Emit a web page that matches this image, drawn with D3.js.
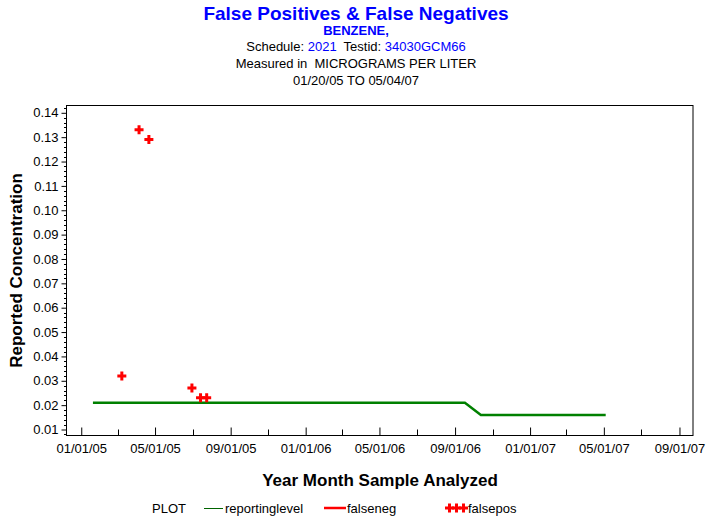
<!DOCTYPE html>
<html><head><meta charset="utf-8">
<script src="https://cdn.jsdelivr.net/npm/d3@7"></script>
<style>body{margin:0;background:#fff}svg{display:block;font-family:"Liberation Sans",Arial,sans-serif}</style>
</head><body><svg id="c" width="713" height="523"></svg>
<script>
const reportDates = ["2005-01-20","2006-09-17","2006-10-13","2007-05-04"];
const reportValues = [0.021,0.021,0.016,0.016];
const falseposDates = ["2005-03-08","2005-04-05","2005-04-21","2005-06-30","2005-07-14","2005-07-24"];
const falseposValues = [0.032,0.133,0.129,0.027,0.023,0.023];
const xTickLabels = ["01/01/05","05/01/05","09/01/05","01/01/06","05/01/06","09/01/06","01/01/07","05/01/07","09/01/07"];
const yTickValues = [0.01,0.02,0.03,0.04,0.05,0.06,0.07,0.08,0.09,0.10,0.11,0.12,0.13,0.14];
const legendLabels = ["reportinglevel","falseneg","falsepos"];

const parse = d3.timeParse("%Y-%m-%d");
const parseTick = d3.timeParse("%m/%d/%y");
const svg = d3.select("#c");
const L=66.5, R=693, T=105.5, B=435.5;

const x = d3.scaleTime().domain([parse("2004-12-08"), parse("2007-09-23")]).range([L,R]);
const y = d3.scaleLinear().domain([0.00754, 0.1430]).range([B,T]);

// titles
const cx = 356;
svg.append("text").attr("x",cx).attr("y",20).attr("text-anchor","middle").attr("fill","#0000ff")
  .attr("font-weight","bold").attr("font-size",19).text("False Positives & False Negatives");
svg.append("text").attr("x",cx).attr("y",35).attr("text-anchor","middle").attr("fill","#0000ff")
  .attr("font-weight","bold").attr("font-size",13).text("BENZENE,");
const t3 = svg.append("text").attr("x",cx).attr("y",51).attr("text-anchor","middle").attr("font-size",13);
t3.append("tspan").text("Schedule: ");
t3.append("tspan").attr("fill","#0000ff").text("2021");
t3.append("tspan").text("  Testid: ");
t3.append("tspan").attr("fill","#0000ff").text("34030GCM66");
t3.attr("xml:space","preserve");
svg.append("text").attr("x",cx).attr("y",68).attr("text-anchor","middle").attr("font-size",13)
  .attr("xml:space","preserve").text("Measured in  MICROGRAMS PER LITER");
svg.append("text").attr("x",cx).attr("y",85).attr("text-anchor","middle").attr("font-size",13)
  .text("01/20/05 TO 05/04/07");

// frame
svg.append("rect").attr("x",L).attr("y",T).attr("width",R-L).attr("height",B-T)
  .attr("fill","none").attr("stroke","#000").attr("stroke-width",1);

// y axis
const yMinor = d3.range(0.008, 0.1421, 0.002).map(v=>+v.toFixed(3)).filter(v=>!yTickValues.some(t=>Math.abs(t-v)<1e-6));
const yAx = svg.append("g").attr("transform",`translate(${L},0)`)
  .call(d3.axisLeft(y).tickValues(yTickValues).tickFormat(d3.format(".2f")).tickSize(5).tickSizeOuter(0));
yAx.select(".domain").remove();
yAx.selectAll("text").attr("font-size",13).attr("font-family","Liberation Sans, Arial, sans-serif").attr("fill","#000");
yAx.append("g").selectAll("line").data(yMinor).join("line")
  .attr("x1",0).attr("x2",-2.5).attr("y1",d=>Math.round(y(d))+0.5).attr("y2",d=>Math.round(y(d))+0.5).attr("stroke","#000");

// x axis
const xMajor = xTickLabels.map(parseTick);
const xMinorLabels = ["03/01/05","07/01/05","11/01/05","03/01/06","07/01/06","11/01/06","03/01/07","07/01/07"];
const xAx = svg.append("g").attr("transform",`translate(0,${B})`)
  .call(d3.axisBottom(x).tickValues(xMajor).tickFormat((d,i)=>xTickLabels[i]).tickSize(8).tickSizeOuter(0));
xAx.select(".domain").remove();
xAx.selectAll("line").attr("transform","translate(0,-8)");
xAx.selectAll("text").attr("font-size",13).attr("dy","0.1em").attr("y",16).attr("fill","#000");
xAx.append("g").selectAll("line").data(xMinorLabels.map(parseTick)).join("line")
  .attr("x1",d=>Math.round(x(d))+0.5).attr("x2",d=>Math.round(x(d))+0.5).attr("y1",0).attr("y2",-6).attr("stroke","#000");

// axis labels
svg.append("text").attr("transform",`translate(22,${(T+B)/2}) rotate(-90)`).attr("text-anchor","middle")
  .attr("font-weight","bold").attr("font-size",17).text("Reported Concentration");
svg.append("text").attr("x",380).attr("y",486).attr("text-anchor","middle")
  .attr("font-weight","bold").attr("font-size",17).text("Year Month Sample Analyzed");

// reporting level line
const repData = reportDates.map((d,i)=>({d:parse(d),v:reportValues[i]}));
svg.append("path").datum(repData).attr("fill","none").attr("stroke","#008000").attr("stroke-width",2.5)
  .attr("d", d3.line().x(d=>x(d.d)).y(d=>y(d.v)));

// false positive markers
const plus = (g, cxp, cyp) => {
  g.append("path").attr("d",`M${cxp-4.5},${cyp}H${cxp+4.5}M${cxp},${cyp-4.5}V${cyp+4.5}`)
    .attr("stroke","#ff0000").attr("stroke-width",3).attr("fill","none");
};
const fpg = svg.append("g");
falseposDates.forEach((d,i)=>plus(fpg, x(parse(d)), y(falseposValues[i])));

// legend
const ly = 508;
svg.append("text").attr("x",152).attr("y",ly+5).attr("font-size",13).text("PLOT");
svg.append("line").attr("x1",204).attr("x2",223).attr("y1",ly+0.5).attr("y2",ly+0.5).attr("stroke","#006400").attr("stroke-width",1);
svg.append("text").attr("x",225).attr("y",ly+5).attr("font-size",13).text(legendLabels[0]);
svg.append("line").attr("x1",324).attr("x2",346).attr("y1",ly).attr("y2",ly).attr("stroke","#ff0000").attr("stroke-width",2.5);
svg.append("text").attr("x",347).attr("y",ly+5).attr("font-size",13).text(legendLabels[1]);
const lg = svg.append("g");
[449.5,456.5,463.5].forEach(px=>plus(lg, px, ly));
svg.append("text").attr("x",468).attr("y",ly+5).attr("font-size",13).text(legendLabels[2]);
</script></body></html>
